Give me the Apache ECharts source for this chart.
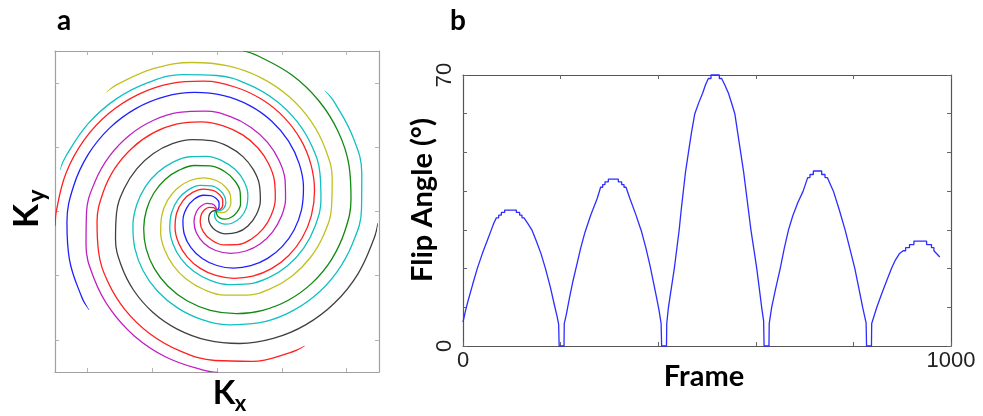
<!DOCTYPE html>
<html>
<head>
<meta charset="utf-8">
<script src="https://cdn.jsdelivr.net/npm/echarts@6/dist/echarts.min.js"></script>
<style>
  html, body { margin: 0; padding: 0; background: #ffffff; }
  #chart { width: 983px; height: 416px; }
</style>
</head>
<body>
<div id="chart"></div>
<script>
// ---------------- Panel a: spiral k-space trajectories ----------------
// Shape of one interleaf: radius and polar angle in degrees (unwrapped)
const spiralRadius = [0, 4, 8, 12, 16, 20, 25, 30, 35, 40, 45, 50, 55, 60, 65, 70, 75, 80, 85, 90,
                      95, 100, 105, 110, 115, 120, 125, 130, 135, 140, 145, 150, 155, 160, 162];
const spiralAngle  = [170, 188, 208, 228, 248, 267, 290, 312, 333, 353, 372, 390, 407, 423, 438.5, 453.5, 468, 482.5, 497, 511.5,
                      526, 540.5, 555, 569, 583, 597, 611, 625, 639, 653, 667, 681, 695, 709, 714.6];
// Polar angle (deg) at which each interleaf ends on the outer edge, in drawing order
const armEndAngle  = [185.5, 48, 270.5, 133, 355.5, 218, 80.5, 303, 165.5];
const armColors    = ['#ff2020', '#10c0c0', '#c020c0', '#c0c020', '#404040', '#2020ff', '#108a10', '#ff2020', '#10c0c0'];
const boxTickCategories = ['t1', 't2', 't3', 't4', 't5'];

// ---------------- Panel b: flip angle schedule ----------------
const frameValues = [
  0, 5, 10, 20, 30, 40, 50, 58, 63, 68.3, 73.1, 73.1, 78.6, 78.6, 85.4, 85.4, 109.3, 109.3, 116.1, 116.1,
  120.9, 120.9, 125, 133, 141, 150, 160, 169, 179, 188, 193, 196, 197, 207,
  207.5, 212, 218, 225, 233, 241, 250, 262, 275, 282, 286.2, 286.2, 291, 291, 297.8, 297.8, 318.3, 318.3, 325.1, 325.1,
  329.9, 329.9, 334, 342, 354, 366, 375, 383, 390, 397, 402, 406, 407, 417,
  417.5, 421, 427, 433, 438, 443, 447, 451.5, 456, 462, 468, 475, 483, 491, 497, 502.7, 508.2, 508.2, 525.3, 525.3,
  530, 537, 544, 551, 557, 563, 569, 575, 580, 585, 590, 596, 602, 607, 612, 616, 617, 627,
  627.5, 632.5, 641, 650, 658, 667, 676, 686, 697, 706.3, 711, 711, 717.9, 717.9, 735, 735, 741.8, 741.8, 746.5, 759,
  771, 783, 793, 803, 811, 819, 826, 827, 837,
  837.5, 848, 858, 868, 878, 886, 894, 902, 907, 907, 915, 915, 924, 924, 950, 950, 960, 960, 965, 965, 969, 977
];
const flipAngleValues = [
  6.2, 9, 11.5, 16, 20.3, 24, 27.3, 30, 31.7, 33.1, 33.1, 33.8, 33.8, 34.5, 34.5, 35.1, 35.1, 34.5, 34.5, 33.8,
  33.8, 33.1, 33.1, 31.6, 30, 27.2, 23.8, 20, 15.2, 10.2, 7.5, 5.6, 0, 0,
  5.8, 8.3, 12.3, 16.6, 20.9, 25.2, 29.4, 33.9, 38.1, 41, 41, 41.7, 41.7, 42.4, 42.4, 43.1, 43.1, 42.4, 42.4, 41.7,
  41.7, 41, 41, 38.1, 34, 29.5, 25.2, 20.9, 16.6, 12.3, 9, 5.8, 0, 0,
  5.8, 10, 15, 20, 25, 30, 35, 40, 45, 50, 55, 60, 62.8, 65.3, 67.5, 69.1, 69.1, 70, 70, 69.1,
  69.1, 67.3, 65.3, 62.5, 60, 55, 50, 45, 40, 35, 30, 25, 20, 15, 10, 6.5, 0, 0,
  5.8, 10, 15, 20, 25, 30, 33.7, 37, 40, 43.5, 43.5, 44.3, 44.3, 45.2, 45.2, 44.3, 44.3, 43.5, 43.5, 40,
  35.2, 30, 25, 20, 15, 10, 6, 0, 0,
  5.8, 10, 13.5, 16.8, 20, 22.2, 23.8, 24.6, 24.6, 25.4, 25.4, 26.2, 26.2, 27.1, 27.1, 26.2, 26.2, 25.4, 25.4, 24.6, 24.6, 23
];
const xTickLabels = [0, 1000];
const yTickLabels = [0, 70];

// ---------------- build options ----------------
const lastAngle = spiralAngle[spiralAngle.length - 1];
const spiralSeries = armEndAngle.map((endAng, k) => ({
  type: 'line',
  coordinateSystem: 'polar',
  polarIndex: 0,
  data: spiralRadius.map((r, i) => [r, spiralAngle[i] - lastAngle + endAng]),
  showSymbol: false,
  smooth: 0.4,
  clip: false,
  lineStyle: { color: armColors[k], width: 1.3 },
  silent: true,
  z: 3
}));

const flipData = frameValues.map((f, i) => [f, flipAngleValues[i]]);

const boxAxisA = (pos) => ({
  type: 'category',
  gridIndex: 0,
  position: pos,
  data: boxTickCategories,
  boundaryGap: true,
  axisLine: { show: true, onZero: false, lineStyle: { color: '#a0a0a0', width: 1.2 } },
  axisTick: { show: true, inside: true, alignWithLabel: true, length: 4, lineStyle: { color: '#b4b4b4' } },
  axisLabel: { show: false },
  splitLine: { show: false }
});

const boxAxisB = (pos, isX, withLabels) => ({
  type: 'value', gridIndex: 1, position: pos,
  min: 0, max: isX ? 1000 : 70, interval: isX ? 200 : 10,
  axisLine: { show: true, onZero: false, lineStyle: { color: '#555555', width: 1.2 } },
  axisTick: { show: true, inside: true, length: 4, lineStyle: { color: '#666666' } },
  axisLabel: withLabels ? (isX ? {
      show: true, margin: 4, fontSize: 22, color: '#222222', fontFamily: 'Liberation Sans, Arial, sans-serif',
      formatter: v => (xTickLabels.indexOf(v) >= 0 ? String(v) : '')
    } : {
      show: true, rotate: 90, margin: 7, fontSize: 22, color: '#222222', fontFamily: 'Liberation Sans, Arial, sans-serif',
      formatter: v => (yTickLabels.indexOf(v) >= 0 ? String(v) : '')
    }) : { show: false },
  splitLine: { show: false }
});

const titleFont = 'Lato, "Open Sans", sans-serif';
const txt = (text, x, y, size, rot, align) => ({
  type: 'text', x: x, y: y, rotation: rot || 0, silent: true,
  style: { text: text, fill: '#000', font: 'bold ' + size + 'px ' + titleFont,
           align: align || 'center', verticalAlign: 'middle', textAlign: align || 'center', textVerticalAlign: 'middle' }
});

const option = {
  backgroundColor: '#ffffff',
  animation: false,
  grid: [
    { left: 55, top: 51, width: 324, height: 321, containLabel: false, outerBoundsMode: 'none' },
    { left: 463, top: 75, width: 488, height: 271, containLabel: false, outerBoundsMode: 'none' }
  ],
  polar: { center: [216.5, 210.5], radius: 162 },
  angleAxis: { type: 'value', min: 0, max: 360, startAngle: 0, clockwise: false, show: false },
  radiusAxis: { type: 'value', min: 0, max: 162, show: false },
  xAxis: [ boxAxisA('bottom'), boxAxisA('top'), boxAxisB('bottom', true, true), boxAxisB('top', true, false) ],
  yAxis: [ boxAxisA('left'), boxAxisA('right'), boxAxisB('left', false, true), boxAxisB('right', false, false) ],
  series: spiralSeries.concat([
    {
      type: 'line',
      xAxisIndex: 2,
      yAxisIndex: 2,
      data: flipData,
      showSymbol: false,
      smooth: false,
      clip: false,
      lineStyle: { color: '#2d2dff', width: 1.3 },
      silent: true,
      z: 3
    }
  ]),
  graphic: [
    txt('a', 57, 21, 28, 0, 'left'),
    txt('b', 450, 21, 28, 0, 'left'),
    txt('K', 224, 393.5, 33),
    txt('x', 240.5, 404, 22),
    txt('K', 27, 216, 35, Math.PI / 2),
    txt('y', 37, 196, 24, Math.PI / 2),
    txt('Frame', 704, 377, 29),
    txt('Flip Angle (°)', 423, 200, 29, Math.PI / 2)
  ]
};

const chart = echarts.init(document.getElementById('chart'), null, { renderer: 'canvas', width: 983, height: 416 });
chart.setOption(option);
</script>
</body>
</html>
